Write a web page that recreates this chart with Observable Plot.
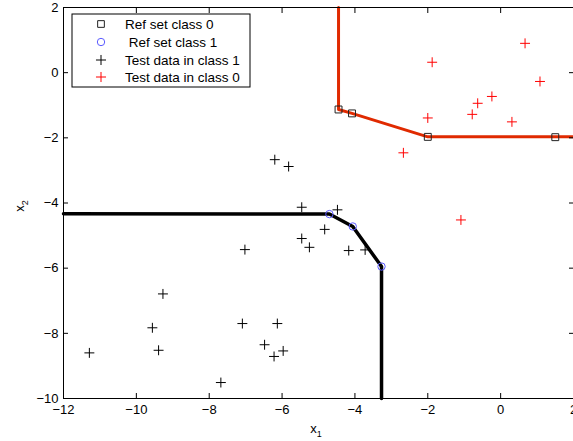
<!DOCTYPE html>
<html>
<head>
<meta charset="utf-8">
<script src="https://cdn.jsdelivr.net/npm/d3@7"></script>
<script src="https://cdn.jsdelivr.net/npm/@observablehq/plot@0.6"></script>
<style>
  html, body { margin: 0; padding: 0; background: #fff; overflow: hidden; }
  #chart { position: relative; width: 573px; height: 441px; }
  svg { font-family: "Liberation Sans", Arial, sans-serif; }
</style>
</head>
<body>
<div id="chart"></div>
<script>
// Decision boundary for class 0 (red)
const redBoundaryX = [-4.45, -4.45, -4.08, -2.0, 1.5, 2.0];
const redBoundaryY = [2.0, -1.13, -1.25, -1.97, -1.97, -1.97];
// Decision boundary for class 1 (black)
const blackBoundaryX = [-12.0, -4.70, -4.06, -3.27, -3.27];
const blackBoundaryY = [-4.33, -4.34, -4.72, -5.95, -10.0];
// Reference set class 0 (squares)
const ref0X = [-4.45, -4.08, -2.0, 1.5];
const ref0Y = [-1.13, -1.25, -1.97, -1.98];
// Reference set class 1 (circles)
const ref1X = [-4.70, -4.06, -3.27];
const ref1Y = [-4.34, -4.72, -5.95];
// Test data in class 1 (black +)
const test1X = [-6.20, -5.82, -5.46, -4.48, -4.83, -5.46, -5.25, -7.02, -4.17, -3.72,
                -9.27, -9.56, -9.39, -11.29, -7.09, -6.13, -6.48, -6.22, -5.97, -7.68];
const test1Y = [-2.67, -2.88, -4.13, -4.21, -4.81, -5.09, -5.36, -5.43, -5.46, -5.44,
                -6.79, -7.83, -8.52, -8.60, -7.70, -7.70, -8.35, -8.71, -8.54, -9.51];
// Test data in class 0 (red +)
const test0X = [-1.88, 0.67, 1.08, -0.24, -0.63, -0.78, -2.0, 0.31, -2.67, -1.09];
const test0Y = [0.32, 0.90, -0.27, -0.73, -0.94, -1.28, -1.39, -1.51, -2.46, -4.52];
// Axis ticks
const xTicks = [-12, -10, -8, -6, -4, -2, 0, 2];
const yTicks = [-10, -8, -6, -4, -2, 0, 2];
const legendLabels = ["Ref set class 0", " Ref set class 1", "Test data in class 1", "Test data in class 0"];

const zip = (xs, ys) => xs.map((x, i) => ({x, y: ys[i]}));
const redLine = zip(redBoundaryX, redBoundaryY);
const blackLine = zip(blackBoundaryX, blackBoundaryY);
const ref0 = zip(ref0X, ref0Y);
const ref1 = zip(ref1X, ref1Y);
const test1 = zip(test1X, test1Y);
const test0 = zip(test0X, test0Y);

const RED_LINE = "#e02a00";
const BLUE = "#5b5bff";

const plot = Plot.plot({
  width: 573,
  height: 441,
  marginLeft: 63,
  marginRight: 0,
  marginTop: 7,
  marginBottom: 43,
  style: {fontSize: "13px", fontFamily: "'Liberation Sans', Arial, sans-serif", color: "#000", overflow: "visible"},
  x: {domain: [-12, 2], ticks: xTicks},
  y: {domain: [-10, 2], ticks: yTicks},
  marks: [
    Plot.line(redLine, {x: "x", y: "y", stroke: RED_LINE, strokeWidth: 3, strokeLinejoin: "round"}),
    Plot.line(blackLine, {x: "x", y: "y", stroke: "#000", strokeWidth: 3.5, strokeLinejoin: "round"}),
    Plot.dot(ref0, {x: "x", y: "y", symbol: "square", r: 3.9, stroke: "#222", strokeWidth: 1, fill: "none"}),
    Plot.dot(ref1, {x: "x", y: "y", symbol: "circle", r: 3.7, stroke: BLUE, strokeWidth: 1, fill: "none"}),
    Plot.dot(test1, {x: "x", y: "y", symbol: "plus", r: 3.3, stroke: "#000", strokeWidth: 1}),
    Plot.dot(test0, {x: "x", y: "y", symbol: "plus", r: 3.3, stroke: "#ff0000", strokeWidth: 1}),
    Plot.frame({stroke: "#000", strokeWidth: 1}),
    Plot.axisX(xTicks, {anchor: "bottom", tickSize: -5, tickPadding: 11, label: null, fontSize: 13}),
    Plot.axisX(xTicks, {anchor: "top", tickSize: -5, tickFormat: () => "", label: null}),
    Plot.axisY(yTicks, {anchor: "left", tickSize: -5, tickPadding: 10, label: null, fontSize: 13}),
    Plot.axisY(yTicks, {anchor: "right", tickSize: -5, tickFormat: () => "", label: null})
  ]
});

document.getElementById("chart").appendChild(plot);

// Axis labels with subscripts and legend overlay
const svg = d3.select(plot);
const xl = svg.append("text")
  .attr("x", 316).attr("y", 433)
  .attr("text-anchor", "middle")
  .attr("font-size", 13);
xl.append("tspan").text("x");
xl.append("tspan").attr("font-size", 9).attr("dy", 4).text("1");

const yl = svg.append("text")
  .attr("transform", "translate(24,206) rotate(-90)")
  .attr("text-anchor", "middle")
  .attr("font-size", 13);
yl.append("tspan").text("x");
yl.append("tspan").attr("font-size", 9).attr("dy", 4).text("2");

const lg = svg.append("g").attr("text-anchor", "start");
lg.append("rect")
  .attr("x", 72).attr("y", 14).attr("width", 178).attr("height", 73)
  .attr("fill", "#fff").attr("stroke", "#000").attr("stroke-width", 1);
const rowY = [24, 42, 60, 77];
const syms = [
  {type: d3.symbolSquare, size: 45, stroke: "#222"},
  {type: d3.symbolCircle, size: 43, stroke: BLUE},
  {type: d3.symbolPlus, size: 35, stroke: "#000"},
  {type: d3.symbolPlus, size: 35, stroke: "#ff0000"}
];
legendLabels.forEach((lab, i) => {
  lg.append("path")
    .attr("transform", `translate(101,${rowY[i]})`)
    .attr("d", d3.symbol(syms[i].type, syms[i].size)())
    .attr("fill", "none").attr("stroke", syms[i].stroke).attr("stroke-width", 1);
  lg.append("text")
    .attr("x", 125).attr("y", rowY[i] + 5)
    .attr("text-anchor", "start")
    .attr("font-size", 13.5)
    .attr("xml:space", "preserve")
    .style("white-space", "pre")
    .text(lab);
});
</script>
</body>
</html>
